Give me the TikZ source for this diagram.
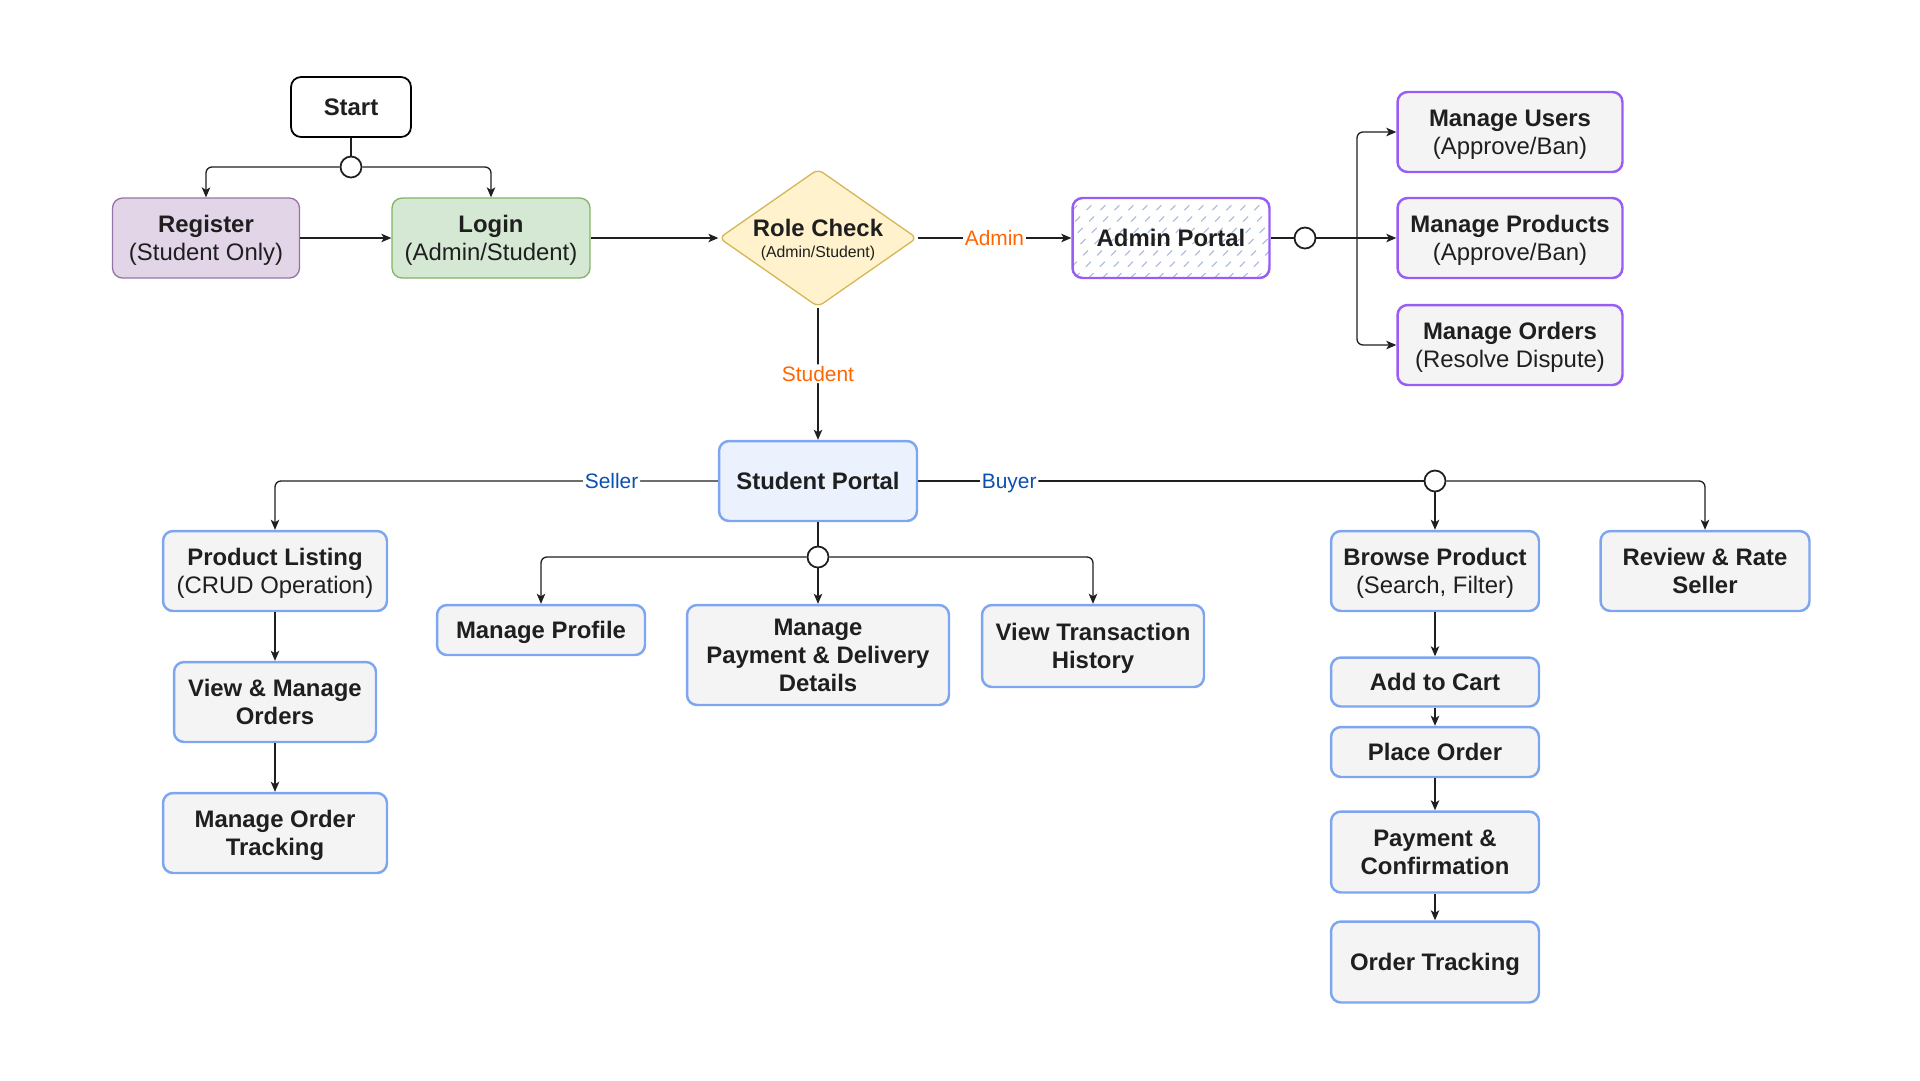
\documentclass[tikz,border=0pt]{standalone}
\usepackage{fontspec}
\setmainfont{Liberation Sans}
\usetikzlibrary{shapes.geometric,arrows.meta}

\definecolor{ink}{HTML}{1F1F1F}
\definecolor{regfill}{HTML}{E1D5E7}
\definecolor{regdraw}{HTML}{9673A6}
\definecolor{loginfill}{HTML}{D5E8D4}
\definecolor{logindraw}{HTML}{82B366}
\definecolor{rolefill}{HTML}{FFF2CC}
\definecolor{roledraw}{HTML}{D6B656}
\definecolor{purpledraw}{HTML}{9A5CF6}
\definecolor{bluedraw}{HTML}{7EA6F0}
\definecolor{portalfill}{HTML}{EBF2FD}
\definecolor{greyfill}{HTML}{F4F4F4}
\definecolor{hatchcol}{HTML}{A8BAD4}
\definecolor{rolelbl}{HTML}{FF6600}
\definecolor{kindlbl}{HTML}{0B4FB0}

\tikzset{
  box/.style={draw, rounded corners=0.2cm, align=center, inner sep=0pt, text depth=0pt, text=ink, font=\fontsize{13.6}{16}\selectfont},
  bluebox/.style={box, draw=bluedraw, fill=greyfill, line width=1.4pt},
  purplebox/.style={box, draw=purpledraw, fill=greyfill, line width=1.4pt},
  junction/.style={circle, draw=ink, fill=white, minimum size=0.42cm, inner sep=0pt, line width=1pt},
  wire/.style={draw=ink, line width=0.75pt, rounded corners=0.12cm},
  link/.style={wire, -{Stealth[length=0.2cm,width=0.17cm,inset=0.05cm]}},
  rolelabel/.style={fill=white, inner sep=1pt, text depth=0pt, text=rolelbl, font=\fontsize{11.9}{14}\selectfont},
  kindlabel/.style={rolelabel, text=kindlbl}
}

\begin{document}
\begin{tikzpicture}[x=0.02cm, y=-0.02cm]
        \useasboundingbox (0,0) rectangle (1920,1080);

        \node [box, fill=white, line width=1pt, minimum width=2.4cm, minimum height=1.2cm] (start) at (351,107) {\textbf{Start}};
        \node [junction] (j1) at (351,167) {};
        \node [box, draw=regdraw, fill=regfill, line width=0.75pt, minimum width=3.74cm, minimum height=1.6cm] (register) at (206,238) {\textbf{Register}\\(Student Only)};
        \node [box, draw=logindraw, fill=loginfill, line width=0.75pt, minimum width=3.96cm, minimum height=1.6cm] (login) at (491,238) {\textbf{Login}\\(Admin/Student)};
        \node [box, diamond, aspect=1.43, draw=roledraw, fill=rolefill, line width=0.75pt, rounded corners=0.12cm, minimum width=3.96cm, minimum height=2.76cm] (rolecheck) at (818,238) {\textbf{Role Check}\\[-4pt]{\fontsize{9}{10}\selectfont (Admin/Student)}};
        \node [box, draw=purpledraw, fill=white, line width=1.4pt, minimum width=3.94cm, minimum height=1.6cm,
               path picture={\foreach \k in {0,...,22} \draw [hatchcol, line width=0.6pt, dash pattern=on 0.14cm off 0.18cm] ([xshift=\k*0.28cm-2.2cm]path picture bounding box.south west) -- ++(2.2cm,2.2cm);}] (adminportal) at (1171,238) {\textbf{Admin Portal}};
        \node [junction] (j2) at (1305,238) {};
        \coordinate (adminfork) at (1357,238);
        \node [purplebox, minimum width=4.5cm, minimum height=1.6cm] (users) at (1510,132) {\textbf{Manage Users}\\(Approve/Ban)};
        \node [purplebox, minimum width=4.5cm, minimum height=1.6cm] (products) at (1510,238) {\textbf{Manage Products}\\(Approve/Ban)};
        \node [purplebox, minimum width=4.5cm, minimum height=1.6cm] (disputes) at (1510,345) {\textbf{Manage Orders}\\(Resolve Dispute)};

        \node [bluebox, fill=portalfill, minimum width=3.96cm, minimum height=1.6cm] (studentportal) at (818,481) {\textbf{Student Portal}};
        \node [junction] (j3) at (818,557) {};
        \node [junction] (j4) at (1435,481) {};

        \node [bluebox, minimum width=4.48cm, minimum height=1.6cm] (listing) at (275,571) {\textbf{Product Listing}\\(CRUD Operation)};
        \node [bluebox, minimum width=4.04cm, minimum height=1.6cm] (sellerorders) at (275,702) {\textbf{View \& Manage}\\\textbf{Orders}};
        \node [bluebox, minimum width=4.48cm, minimum height=1.6cm] (sellertracking) at (275,833) {\textbf{Manage Order}\\\textbf{Tracking}};

        \node [bluebox, minimum width=4.16cm, minimum height=1.0cm] (profile) at (541,630) {\textbf{Manage Profile}};
        \node [bluebox, minimum width=5.24cm, minimum height=2.0cm] (paydetails) at (818,655) {\textbf{Manage}\\\textbf{Payment \& Delivery}\\\textbf{Details}};
        \node [bluebox, minimum width=4.44cm, minimum height=1.64cm] (history) at (1093,646) {\textbf{View Transaction}\\\textbf{History}};

        \node [bluebox, minimum width=4.16cm, minimum height=1.6cm] (browse) at (1435,571) {\textbf{Browse Product}\\(Search, Filter)};
        \node [bluebox, minimum width=4.18cm, minimum height=1.6cm] (review) at (1705,571) {\textbf{Review \& Rate}\\\textbf{Seller}};
        \node [bluebox, minimum width=4.16cm, minimum height=0.98cm] (cart) at (1435,682) {\textbf{Add to Cart}};
        \node [bluebox, minimum width=4.16cm, minimum height=1.0cm] (placeorder) at (1435,752) {\textbf{Place Order}};
        \node [bluebox, minimum width=4.16cm, minimum height=1.62cm] (payment) at (1435,852) {\textbf{Payment \&}\\\textbf{Confirmation}};
        \node [bluebox, minimum width=4.16cm, minimum height=1.62cm] (tracking) at (1435,962) {\textbf{Order Tracking}};

        \draw [wire] (start.south) -- (j1.north);
        \draw [link] (j1.west) -| (register.north);
        \draw [link] (j1.east) -| (login.north);
        \draw [link] (register.east) -- (login.west);
        \draw [link] (login.east) -- (rolecheck.west);
        \draw [link] (rolecheck.east) -- node [rolelabel] {Admin} (adminportal.west);
        \draw [wire] (adminportal.east) -- (j2.west);
        \draw [wire] (j2.east) -- (adminfork);
        \draw [link] (adminfork) |- (users.west);
        \draw [link] (adminfork) -- (products.west);
        \draw [link] (adminfork) |- (disputes.west);
        \draw [link] (rolecheck.south) -- node [rolelabel] {Student} (studentportal.north);

        \draw [link] (studentportal.west) -| node [kindlabel, pos=0.12] {Seller} (listing.north);
        \draw [wire] (studentportal.east) -- node [kindlabel, pos=0.18] {Buyer} (j4.west);
        \draw [wire] (studentportal.south) -- (j3.north);
        \draw [link] (j3.west) -| (profile.north);
        \draw [link] (j3.south) -- (paydetails.north);
        \draw [link] (j3.east) -| (history.north);

        \draw [link] (listing.south) -- (sellerorders.north);
        \draw [link] (sellerorders.south) -- (sellertracking.north);

        \draw [link] (j4.south) -- (browse.north);
        \draw [link] (j4.east) -| (review.north);
        \draw [link] (browse.south) -- (cart.north);
        \draw [link] (cart.south) -- (placeorder.north);
        \draw [link] (placeorder.south) -- (payment.north);
        \draw [link] (payment.south) -- (tracking.north);
    \end{tikzpicture}
\end{document}
